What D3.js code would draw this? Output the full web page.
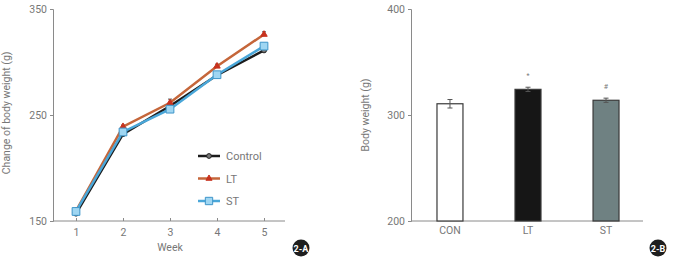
<!DOCTYPE html>
<html>
<head>
<meta charset="utf-8">
<script src="https://cdn.jsdelivr.net/npm/d3@7"></script>
<style>
body { margin: 0; background: #fff; }
text { font-family: "Liberation Sans Narrow", "Roboto", sans-serif; fill: #777; }
</style>
</head>
<body>
<div id="grafico"></div>
<script>
// datos
const semanas = [1, 2, 3, 4, 5];
const control = [157, 232, 258.5, 287.5, 311];
const lt = [159.5, 239, 261.5, 296, 326];
const st = [159, 234, 255.5, 288, 315];
const errLt = [1.5, 1.5, 3.5, 2, 2.5];
const grupos = ["CON", "LT", "ST"];
const pesos = [310.6, 324.2, 313.9];
const errPesos = [4, 2, 2];
const marcas = ["", "*", "#"];
const ticksA = [150, 250, 350];
const ticksB = [200, 300, 400];

const width = 675;
const height = 259;

const svg = d3.select("#grafico")
  .append("svg")
  .attr("width", width)
  .attr("height", height);

const gris = "#8a8a8a";

// ---- Grafico A ----
const xA = d3.scaleLinear().domain([1, 5]).range([76, 264]);
const yA = d3.scaleLinear().domain([150, 350]).range([221, 9]);

const ejeXA = svg.append("g")
  .attr("transform", `translate(0,${yA(150)})`)
  .call(d3.axisBottom(xA).tickValues(semanas).tickSize(-3).tickPadding(8).tickFormat(d3.format("d")));
ejeXA.select(".domain").attr("d", `M53,0H285`);

const ejeYA = svg.append("g")
  .attr("transform", `translate(53,0)`)
  .call(d3.axisLeft(yA).tickValues(ticksA).tickSize(3).tickPadding(3));

svg.append("text")
  .attr("x", xA(3))
  .attr("y", 251)
  .attr("text-anchor", "middle")
  .style("font-size", "10.5px")
  .text("Week");

svg.append("text")
  .attr("transform", `translate(10,${yA(252)}) rotate(-90)`)
  .attr("text-anchor", "middle")
  .style("font-size", "10.5px")
  .text("Change of body weight (g)");

const series = [
  { nombre: "Control", valores: control, linea: "#1c1c1c", marca: "circle", relleno: "#777", borde: "#222" },
  { nombre: "LT", valores: lt, linea: "#c5663a", marca: "triangle", relleno: "#c8321e", borde: "#c8321e" },
  { nombre: "ST", valores: st, linea: "#4aa7d9", marca: "square", relleno: "#9fd6f2", borde: "#3e95c9" }
];

const linea = d3.line().x((d, i) => xA(semanas[i])).y(d => yA(d));

// barras de error LT
svg.append("g").selectAll("path")
  .data(lt)
  .enter()
  .append("path")
  .attr("d", (d, i) => `M${xA(semanas[i]) - 2},${yA(d + errLt[i])}H${xA(semanas[i]) + 2}M${xA(semanas[i])},${yA(d + errLt[i])}V${yA(d)}`)
  .attr("stroke", "#555")
  .attr("stroke-width", 1)
  .attr("fill", "none");

series.forEach(s => {
  svg.append("path")
    .datum(s.valores)
    .attr("d", linea)
    .attr("fill", "none")
    .attr("stroke", s.linea)
    .attr("stroke-width", 2.5);
});

const simbolos = { circle: d3.symbolCircle, triangle: d3.symbolTriangle, square: d3.symbolSquare };
const tamanos = { circle: 20, triangle: 18, square: 60 };

series.forEach(s => {
  svg.append("g").selectAll("path")
    .data(s.valores)
    .enter()
    .append("path")
    .attr("transform", (d, i) => `translate(${xA(semanas[i])},${yA(d)})`)
    .attr("d", d3.symbol().type(simbolos[s.marca]).size(tamanos[s.marca]))
    .attr("fill", s.relleno)
    .attr("stroke", s.borde)
    .attr("stroke-width", 1);
});

// leyenda
const leyenda = svg.append("g");
series.forEach((s, i) => {
  const y = 156 + i * 22.5;
  leyenda.append("line")
    .attr("x1", 198).attr("x2", 220).attr("y1", y).attr("y2", y)
    .attr("stroke", s.linea).attr("stroke-width", 2.5);
  leyenda.append("path")
    .attr("transform", `translate(209,${y})`)
    .attr("d", d3.symbol().type(simbolos[s.marca]).size(tamanos[s.marca] * 0.9))
    .attr("fill", s.relleno)
    .attr("stroke", s.borde);
  leyenda.append("text")
    .attr("x", 226).attr("y", y + 4)
    .style("font-size", "11px")
    .text(s.nombre);
});

// ---- Grafico B ----
const xB = d3.scaleBand().domain(grupos).range([411, 645]).paddingInner(0.667).paddingOuter(0.333);
const yB = d3.scaleLinear().domain([200, 400]).range([221, 9]);

const ejeXB = svg.append("g")
  .attr("transform", `translate(0,${yB(200)})`)
  .call(d3.axisBottom(xB).tickSize(0).tickPadding(6));
ejeXB.select(".domain").attr("d", `M411,0H643`);

svg.append("g")
  .attr("transform", `translate(411,0)`)
  .call(d3.axisLeft(yB).tickValues(ticksB).tickSize(3).tickPadding(3));

svg.append("text")
  .attr("transform", `translate(369,${yB(300)}) rotate(-90)`)
  .attr("text-anchor", "middle")
  .style("font-size", "10.5px")
  .text("Body weight (g)");

const coloresB = ["#ffffff", "#161616", "#6f8182"];

svg.append("g").selectAll("rect")
  .data(pesos)
  .enter()
  .append("rect")
  .attr("x", (d, i) => xB(grupos[i]))
  .attr("y", d => yB(d))
  .attr("width", xB.bandwidth())
  .attr("height", d => yB(200) - yB(d))
  .attr("fill", (d, i) => coloresB[i])
  .attr("stroke", "#3a3a3a")
  .attr("stroke-width", 1.2);

svg.append("g").selectAll("path")
  .data(pesos)
  .enter()
  .append("path")
  .attr("d", (d, i) => {
    const cx = xB(grupos[i]) + xB.bandwidth() / 2;
    const t = yB(d + errPesos[i]), b = yB(d - errPesos[i]);
    return `M${cx - 2.5},${t}H${cx + 2.5}M${cx},${t}V${b}M${cx - 2.5},${b}H${cx + 2.5}`;
  })
  .attr("stroke", "#555")
  .attr("stroke-width", 1)
  .attr("fill", "none");

svg.append("g").selectAll("text")
  .data(pesos)
  .enter()
  .append("text")
  .attr("x", (d, i) => xB(grupos[i]) + xB.bandwidth() / 2)
  .attr("y", (d, i) => yB(d + errPesos[i]) - 9)
  .attr("text-anchor", "middle")
  .style("font-size", "7px")
  .text((d, i) => marcas[i]);

// estilos de ejes
svg.selectAll(".domain, .tick line").attr("stroke", gris);
svg.selectAll(".tick text").style("font-size", "10.5px").attr("fill", "#888");

// insignias
[["2-A", 301], ["2-B", 658]].forEach(([t, x]) => {
  svg.append("circle").attr("cx", x).attr("cy", 248).attr("r", 8.5).attr("fill", "#1e1e1e");
  svg.append("text")
    .attr("x", x).attr("y", 251.5)
    .attr("text-anchor", "middle")
    .style("font-size", "9px")
    .style("font-weight", "bold")
    .style("fill", "#fff")
    .text(t);
});
</script>
</body>
</html>
